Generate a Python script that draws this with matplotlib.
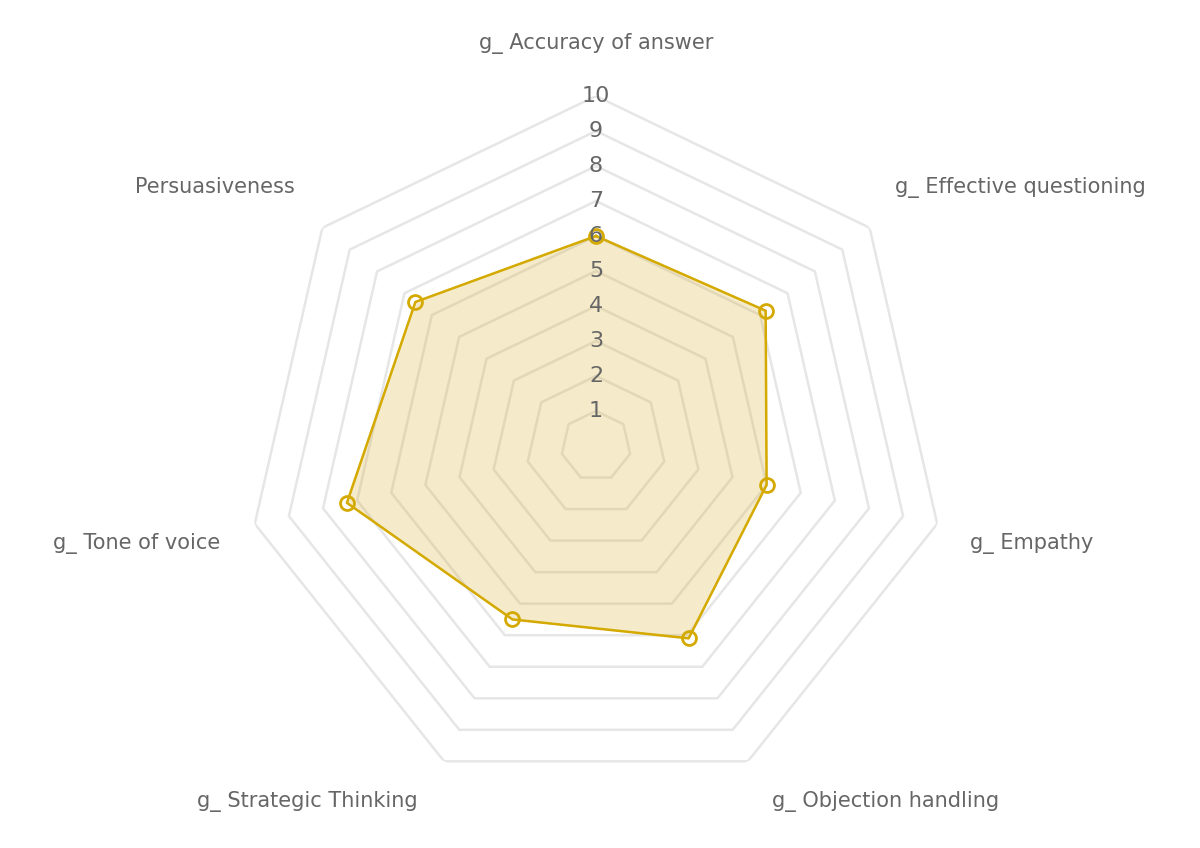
import numpy as np
import matplotlib
matplotlib.use("Agg")
import matplotlib.pyplot as plt

categories = ["g_ Accuracy of answer", "g_ Effective questioning", "g_ Empathy",
              "g_ Objection handling", "g_ Strategic Thinking", "g_ Tone of voice",
              "Persuasiveness"]
values = [6.0, 6.2, 5.0, 6.1, 5.5, 7.3, 6.6]
ticks = list(range(1, 11))

W, H = 1200, 848
fig = plt.figure(figsize=(12, 8.48), dpi=100)
cx, cy, R = 596, 446, 350
ax = fig.add_axes([(cx - R) / W, (H - cy - R) / H, 2 * R / W, 2 * R / H], polar=True)
ax.set_theta_offset(np.pi / 2)
ax.set_theta_direction(-1)
ax.set_ylim(0, 10)
ax.grid(False)
ax.spines['polar'].set_visible(False)
ax.set_xticks([]); ax.set_yticks([])

n = len(categories)
ang = np.linspace(0, 2 * np.pi, n, endpoint=False)
angc = np.append(ang, ang[0])
for t in ticks:
    ax.plot(angc, [t] * (n + 1), color="#e6e6e6", lw=1.8, zorder=1)
for t in ticks:
    ax.text(0, t, str(t), ha="center", va="center", fontsize=16, color="#666666", zorder=5)

vc = values + values[:1]
col = "#d4a900"
ax.fill(angc, vc, color="#d9ad2b", alpha=0.25, zorder=2)
ax.plot(angc, vc, color=col, lw=1.8, zorder=3)
ax.plot(ang, values, 'o', ms=10, mfc="none", mec=col, mew=2, zorder=4)

# label positions (pixel coords) and alignment
lab = [(596, 43, "center"), (895, 187, "left"), (970, 544, "left"), (886, 802, "center"),
       (307, 802, "center"), (220, 544, "right"), (295, 187, "right")]
for c, (x, y, ha) in zip(categories, lab):
    fig.text(x / W, 1 - y / H, c, ha=ha, va="center", fontsize=15, color="#666666")

fig.savefig("out.png", dpi=100)
